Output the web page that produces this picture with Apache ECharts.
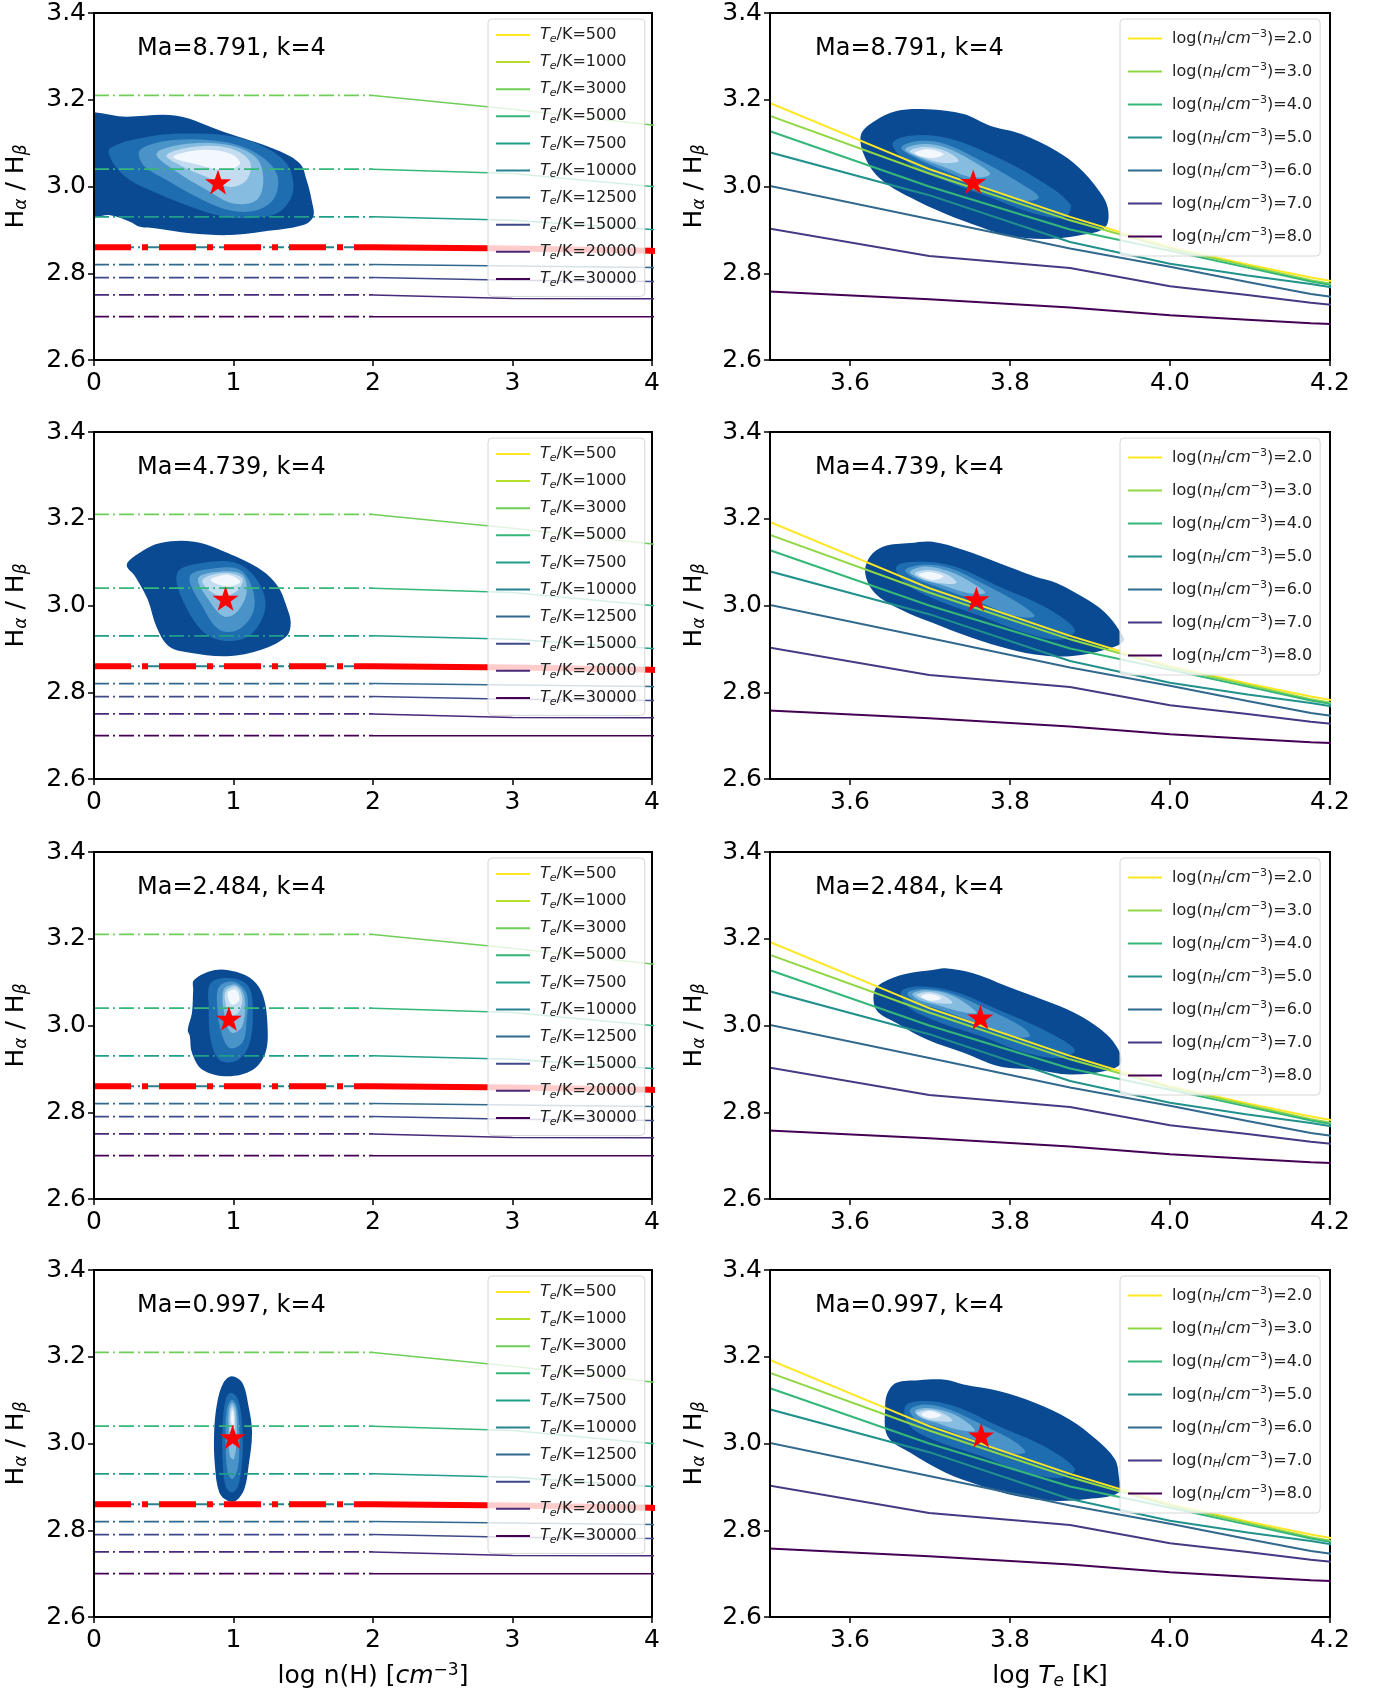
<!DOCTYPE html>
<html>
<head>
<meta charset="utf-8">
<title>Halpha / Hbeta diagnostics</title>
<script src="https://cdn.jsdelivr.net/npm/echarts@6/dist/echarts.min.js"></script>
<style>
html, body { margin: 0; padding: 0; background: #fff; }
#chart { width: 1376px; height: 1694px; }
</style>
</head>
<body>
<div id="chart"></div>
<script>
// model grid: electron temperatures (K) and densities log(nH/cm^-3)
const teValues = [500, 1000, 3000, 5000, 7500, 10000, 12500, 15000, 20000, 30000]
const logNH = [2, 3, 4, 5, 6, 7, 8]

// Ha/Hb for each Te, one value per logNH
const ratio500 = [3.62, 3.60, 3.57, 3.51, 3.40, 3.22, 2.93]
const ratio1000 = [3.47, 3.45, 3.42, 3.36, 3.25, 3.09, 2.84]
const ratio3000 = [3.21, 3.178, 3.142, 3.09, 3.01, 2.91, 2.76]
const ratio5000 = [3.04, 3.03, 3.00, 2.98, 2.925, 2.84, 2.74]
const ratio7500 = [2.93, 2.922, 2.901, 2.872, 2.857, 2.812, 2.721]
const ratio10000 = [2.86, 2.857, 2.852, 2.822, 2.815, 2.77, 2.703]
const ratio12500 = [2.82, 2.817, 2.813, 2.795, 2.78, 2.75, 2.693]
const ratio15000 = [2.79, 2.784, 2.781, 2.775, 2.752, 2.732, 2.685]
const ratio20000 = [2.75, 2.742, 2.741, 2.74, 2.72, 2.71, 2.675]
const ratio30000 = [2.70, 2.70, 2.70, 2.70, 2.69, 2.68, 2.66]
const ratioByTe = [ratio500, ratio1000, ratio3000, ratio5000, ratio7500,
  ratio10000, ratio12500, ratio15000, ratio20000, ratio30000]

const highlightTe = 10000 // drawn again in thick red
const extendFrom = 0 // flat extension below the lowest density

const panelLabels = ['Ma=8.791, k=4', 'Ma=4.739, k=4', 'Ma=2.484, k=4', 'Ma=0.997, k=4']
const starNH = [[0.889, 3.010], [0.943, 3.016], [0.967, 3.016], [0.994, 3.015]]
const starTe = [[3.754, 3.011], [3.758, 3.015], [3.763, 3.019], [3.764, 3.019]]

const rightXTicks = [3.6, 3.8, 4.0, 4.2]

// density contours (outer level first)
const blobNH1 = [
  [[-0.1,3.16],[0.235,3.161],[0.593,3.163],[0.927,3.126],[1.309,3.084],[1.476,3.053],[1.524,3.015],[1.56,2.969],[1.572,2.931],[1.5,2.911],[1.214,2.896],[0.975,2.888],[0.688,2.892],[0.449,2.903],[0.33,2.907],[0.258,2.919],[0.115,2.934],[-0.1,2.932]],
  [[0.115,3.088],[0.449,3.118],[0.736,3.122],[0.999,3.115],[1.214,3.092],[1.381,3.053],[1.429,3.007],[1.405,2.969],[1.309,2.938],[1.118,2.927],[0.927,2.931],[0.688,2.954],[0.449,2.985],[0.258,3.015],[0.139,3.053]],
  [[0.33,3.084],[0.568,3.107],[0.927,3.103],[1.166,3.076],[1.309,3.03],[1.297,2.976],[1.166,2.945],[0.975,2.945],[0.76,2.972],[0.521,3.015],[0.354,3.049]],
  [[0.449,3.076],[0.688,3.099],[0.975,3.095],[1.166,3.065],[1.214,3.015],[1.166,2.969],[0.999,2.961],[0.808,2.992],[0.593,3.034]],
  [[0.521,3.072],[0.736,3.092],[0.975,3.088],[1.118,3.057],[1.094,3.015],[0.975,2.999],[0.808,3.022],[0.64,3.045]],
  [[0.568,3.068],[0.76,3.084],[0.975,3.076],[1.047,3.053],[0.951,3.038],[0.76,3.049]]
]
const blobNH2 = [
  [[0.235,3.094],[0.325,3.121],[0.476,3.144],[0.717,3.147],[0.958,3.121],[1.199,3.082],[1.319,3.044],[1.38,2.998],[1.41,2.96],[1.38,2.929],[1.199,2.898],[0.958,2.883],[0.687,2.891],[0.536,2.906],[0.446,2.952],[0.386,3.013],[0.295,3.067]],
  [[0.596,3.075],[0.777,3.098],[1.018,3.098],[1.169,3.059],[1.229,2.998],[1.139,2.937],[0.988,2.918],[0.807,2.933],[0.657,2.998]],
  [[0.687,3.067],[0.867,3.086],[1.048,3.082],[1.139,3.036],[1.139,2.983],[1.033,2.944],[0.898,2.944],[0.777,2.998]],
  [[0.747,3.063],[0.898,3.078],[1.063,3.071],[1.093,3.029],[1.018,2.983],[0.928,2.975],[0.822,3.013]],
  [[0.777,3.059],[0.928,3.075],[1.063,3.063],[1.033,3.036],[0.928,3.021],[0.837,3.032]],
  [[0.837,3.059],[0.958,3.071],[1.048,3.055],[0.958,3.044]]
]
const blobNH3 = [
  [[0.717,3.105],[0.867,3.128],[1.018,3.124],[1.139,3.105],[1.214,3.067],[1.244,2.998],[1.229,2.937],[1.139,2.898],[0.958,2.883],[0.777,2.898],[0.702,2.937],[0.687,2.975],[0.672,2.99],[0.702,3.029],[0.711,3.082]],
  [[0.837,3.098],[0.988,3.109],[1.108,3.09],[1.139,3.029],[1.108,2.952],[1.018,2.918],[0.898,2.921],[0.837,2.967],[0.822,3.044]],
  [[0.898,3.09],[1.003,3.101],[1.093,3.075],[1.093,3.006],[1.063,2.96],[0.973,2.948],[0.913,2.983],[0.883,3.044]],
  [[0.928,3.082],[1.018,3.094],[1.078,3.067],[1.063,2.998],[0.988,2.983],[0.943,3.013]],
  [[0.943,3.078],[1.018,3.09],[1.063,3.063],[1.033,3.029],[0.973,3.025],[0.943,3.052]],
  [[0.958,3.075],[1.018,3.082],[1.042,3.059],[0.988,3.048]]
]
const blobNH4 = [
  [[0.988,3.155],[1.063,3.14],[1.108,3.086],[1.133,3.025],[1.108,2.948],[1.078,2.895],[1.018,2.868],[0.958,2.868],[0.898,2.887],[0.867,2.948],[0.861,3.025],[0.883,3.094],[0.928,3.14]],
  [[0.982,3.117],[1.033,3.101],[1.063,3.04],[1.063,2.964],[1.033,2.902],[0.988,2.887],[0.943,2.902],[0.922,2.964],[0.922,3.04],[0.943,3.101]],
  [[0.988,3.101],[1.024,3.086],[1.042,3.025],[1.033,2.948],[0.994,2.918],[0.958,2.933],[0.943,3.01],[0.952,3.078]],
  [[0.991,3.094],[1.018,3.078],[1.024,3.017],[1.003,2.964],[0.973,2.971],[0.964,3.033],[0.967,3.078]],
  [[0.991,3.086],[1.009,3.071],[1.009,3.025],[0.988,3.002],[0.973,3.025],[0.976,3.071]],
  [[0.991,3.078],[1.003,3.063],[0.997,3.04],[0.982,3.055]]
]
const blobTe1 = [
  [[3.614,3.121],[3.631,3.151],[3.658,3.174],[3.697,3.178],[3.742,3.167],[3.775,3.14],[3.814,3.121],[3.858,3.082],[3.886,3.044],[3.908,2.998],[3.922,2.952],[3.919,2.906],[3.886,2.887],[3.842,2.879],[3.797,2.887],[3.764,2.906],[3.719,2.937],[3.675,2.975],[3.636,3.021],[3.617,3.075]],
  [[3.653,3.098],[3.675,3.117],[3.719,3.113],[3.775,3.075],[3.831,3.021],[3.875,2.96],[3.869,2.929],[3.831,2.937],[3.775,2.975],[3.719,3.013],[3.675,3.052]],
  [[3.664,3.09],[3.686,3.105],[3.719,3.098],[3.764,3.059],[3.808,3.013],[3.836,2.975],[3.814,2.967],[3.769,2.998],[3.719,3.036],[3.681,3.067]],
  [[3.669,3.086],[3.692,3.098],[3.719,3.09],[3.753,3.059],[3.775,3.029],[3.753,3.021],[3.719,3.044],[3.686,3.067]],
  [[3.675,3.082],[3.694,3.091],[3.719,3.082],[3.736,3.059],[3.714,3.055],[3.689,3.068]],
  [[3.681,3.078],[3.697,3.086],[3.717,3.075],[3.706,3.066],[3.689,3.069]]
]
const blobTe2 = [
  [[3.625,3.113],[3.642,3.136],[3.675,3.144],[3.703,3.147],[3.742,3.128],[3.786,3.098],[3.831,3.067],[3.858,3.052],[3.897,3.013],[3.919,2.983],[3.936,2.944],[3.942,2.918],[3.919,2.898],[3.875,2.883],[3.831,2.887],[3.786,2.906],[3.747,2.929],[3.703,2.96],[3.664,2.99],[3.631,3.029],[3.619,3.075]],
  [[3.658,3.09],[3.686,3.101],[3.731,3.09],[3.786,3.044],[3.842,2.998],[3.881,2.944],[3.864,2.921],[3.819,2.937],[3.764,2.975],[3.708,3.013],[3.669,3.052]],
  [[3.669,3.082],[3.692,3.094],[3.725,3.086],[3.769,3.048],[3.814,3.002],[3.831,2.975],[3.808,2.975],[3.764,3.006],[3.714,3.04],[3.681,3.063]],
  [[3.675,3.078],[3.694,3.09],[3.725,3.078],[3.753,3.052],[3.769,3.029],[3.747,3.029],[3.714,3.048],[3.686,3.063]],
  [[3.681,3.075],[3.7,3.082],[3.722,3.071],[3.733,3.052],[3.711,3.052],[3.689,3.063]],
  [[3.686,3.071],[3.7,3.077],[3.717,3.067],[3.703,3.059]]
]
const blobTe3 = [
  [[3.631,3.082],[3.647,3.105],[3.675,3.121],[3.703,3.128],[3.719,3.132],[3.753,3.121],[3.797,3.09],[3.842,3.059],[3.881,3.029],[3.914,2.99],[3.933,2.952],[3.939,2.914],[3.919,2.895],[3.875,2.887],[3.831,2.898],[3.786,2.906],[3.742,2.937],[3.697,2.967],[3.658,3.006],[3.633,3.036]],
  [[3.664,3.078],[3.686,3.09],[3.731,3.078],[3.786,3.036],[3.842,2.99],[3.881,2.944],[3.864,2.925],[3.819,2.937],[3.764,2.975],[3.708,3.01],[3.672,3.044]],
  [[3.672,3.075],[3.692,3.084],[3.725,3.075],[3.769,3.04],[3.814,2.998],[3.825,2.975],[3.803,2.975],[3.758,3.006],[3.714,3.036],[3.683,3.055]],
  [[3.678,3.073],[3.697,3.081],[3.725,3.071],[3.747,3.048],[3.758,3.029],[3.736,3.033],[3.708,3.048],[3.686,3.059]],
  [[3.683,3.071],[3.7,3.077],[3.719,3.067],[3.728,3.052],[3.708,3.052],[3.691,3.061]],
  [[3.689,3.067],[3.7,3.073],[3.714,3.063],[3.701,3.057]]
]
const blobTe4 = [
  [[3.644,3.086],[3.647,3.117],[3.658,3.14],[3.686,3.146],[3.719,3.147],[3.742,3.136],[3.786,3.121],[3.831,3.094],[3.875,3.055],[3.908,3.009],[3.931,2.964],[3.936,2.925],[3.936,2.887],[3.897,2.872],[3.853,2.868],[3.808,2.879],[3.764,2.902],[3.719,2.933],[3.675,2.979],[3.647,3.017]],
  [[3.669,3.086],[3.692,3.098],[3.731,3.086],[3.786,3.04],[3.842,2.994],[3.881,2.941],[3.864,2.921],[3.819,2.933],[3.764,2.971],[3.708,3.006],[3.675,3.04]],
  [[3.675,3.078],[3.694,3.09],[3.725,3.078],[3.769,3.04],[3.808,3.002],[3.819,2.979],[3.797,2.979],[3.758,3.006],[3.714,3.036],[3.683,3.055]],
  [[3.681,3.075],[3.697,3.082],[3.725,3.071],[3.747,3.048],[3.756,3.029],[3.733,3.033],[3.708,3.048],[3.689,3.059]],
  [[3.683,3.071],[3.7,3.078],[3.719,3.067],[3.728,3.052],[3.708,3.052],[3.692,3.059]],
  [[3.689,3.067],[3.7,3.075],[3.714,3.065],[3.701,3.058]]
]
const blobsNH = [blobNH1, blobNH2, blobNH3, blobNH4]
const blobsTe = [blobTe1, blobTe2, blobTe3, blobTe4]

const teColors = ['#fde725', '#b5de2b', '#6ece58', '#35b779', '#1f9e89', '#26828e', '#31688e', '#3e4989', '#482878', '#440154']
const nhColors = ['#fde725', '#8fd744', '#35b779', '#21918c', '#31688e', '#443983', '#440154']
const blobColors = ['#0a4a93', '#1f6db1', '#4a93c8', '#86bcdf', '#c3dcef', '#f2f8fd']

const FONT = 'DejaVu Sans'
const gridTops = [13, 432, 852, 1270]
const gridHeight = 347
const starPath = 'path://M50,0 L61.8,35.1 L98.1,35.1 L68.8,56.8 L79.4,91 L50,70 L20.6,91 L31.2,56.8 L1.9,35.1 L38.2,35.1 Z'

const teName = (te) => 'Te/K=' + te
const nhName = (nh) => 'log(nH/cm-3)=' + nh.toFixed(1)

const subRich = {
  i: { fontStyle: 'italic', fontFamily: FONT },
  sub: { fontStyle: 'italic', fontSize: 11, fontFamily: FONT, padding: [8, 0, 0, 0] },
  sup: { fontSize: 11, fontFamily: FONT, padding: [0, 0, 8, 0] },
}
const axisRich = {
  i: { fontStyle: 'italic', fontSize: 25, fontFamily: FONT },
  sub: { fontStyle: 'italic', fontSize: 17, fontFamily: FONT, padding: [11, 0, 0, 0] },
  sup: { fontSize: 17, fontFamily: FONT, padding: [0, 0, 11, 0] },
}

function blobSeries(polys, idx) {
  return {
    type: 'custom',
    xAxisIndex: idx,
    yAxisIndex: idx,
    z: 1,
    silent: true,
    data: polys.map((p, i) => i),
    renderItem: (params, api) => {
      const pts = polys[params.dataIndex].map((p) => api.coord(p))
      const cs = params.coordSys
      return {
        type: 'polygon',
        shape: { points: pts, smooth: 0.35 },
        style: { fill: blobColors[params.dataIndex] },
        clipPath: { type: 'rect', shape: { x: cs.x, y: cs.y, width: cs.width, height: cs.height } },
      }
    },
  }
}

function lineSeries(name, idx, data, color, width, type, z) {
  return {
    type: 'line', name, xAxisIndex: idx, yAxisIndex: idx, data,
    symbol: 'none', silent: true, z,
    lineStyle: { color, width, type, cap: 'butt' },
    itemStyle: { color },
  }
}

function starSeries(point, idx) {
  return {
    type: 'scatter', xAxisIndex: idx, yAxisIndex: idx, data: [point], z: 6, silent: true,
    symbol: starPath, symbolSize: 26, symbolKeepAspect: true,
    itemStyle: { color: '#ff0000', opacity: 1 },
  }
}

const grids = []
const xAxes = []
const yAxes = []
const series = []
const legends = []
const titles = []

const tickStyle = { show: true, length: 6, lineStyle: { color: '#000', width: 1.5 } }
const labelStyle = { fontSize: 25, color: '#000', fontFamily: FONT, margin: 8 }
const xLabelStyle = Object.assign({}, labelStyle, { margin: 11 })

for (let r = 0; r < 4; r++) {
  const top = gridTops[r]
  const last = r === 3
  const li = 2 * r
  const ri = 2 * r + 1
  const frame = { top, height: gridHeight, show: true, borderColor: '#000', borderWidth: 2, backgroundColor: 'transparent' }
  grids.push(Object.assign({ left: 94, width: 558 }, frame))
  grids.push(Object.assign({ left: 770, width: 560 }, frame))

  xAxes.push({
    gridIndex: li, type: 'value', min: 0, max: 4, interval: 1, z: 10,
    axisLine: { show: true, lineStyle: { color: '#000', width: 2 } },
    axisTick: tickStyle, splitLine: { show: false },
    axisLabel: xLabelStyle,
    name: last ? 'log n(H) [{i|cm}{sup|\u22123}]' : '',
    nameLocation: 'middle', nameGap: 45,
    nameTextStyle: { fontSize: 25, color: '#000', fontFamily: FONT, rich: axisRich },
  })
  xAxes.push({
    gridIndex: ri, type: 'value', min: 3.5, max: 4.2, z: 10,
    axisLine: { show: true, lineStyle: { color: '#000', width: 2 } },
    axisTick: Object.assign({ customValues: rightXTicks }, tickStyle), splitLine: { show: false },
    axisLabel: Object.assign({ customValues: rightXTicks, formatter: (v) => v.toFixed(1) }, xLabelStyle),
    name: last ? 'log {i|T}{sub|e} [K]' : '',
    nameLocation: 'middle', nameGap: 45,
    nameTextStyle: { fontSize: 25, color: '#000', fontFamily: FONT, rich: axisRich },
  })
  for (const [idx, gap] of [[li, 64], [ri, 62]]) {
    yAxes.push({
      gridIndex: idx, type: 'value', min: 2.6, max: 3.4, interval: 0.2, z: 10,
      axisLine: { show: true, lineStyle: { color: '#000', width: 2 } },
      axisTick: tickStyle, splitLine: { show: false },
      axisLabel: Object.assign({ formatter: (v) => v.toFixed(1) }, labelStyle),
      name: 'H{sub|\u03b1} / H{sub|\u03b2}',
      nameLocation: 'middle', nameGap: gap, nameRotate: 90,
      nameTextStyle: { fontSize: 25, color: '#000', fontFamily: FONT, rich: axisRich },
    })
  }

  // left: ratio vs density, one line per temperature
  series.push(blobSeries(blobsNH[r], li))
  teValues.forEach((te, i) => {
    const row = ratioByTe[i]
    series.push(lineSeries(te + ' ext', li, [[extendFrom, row[0]], [logNH[0], row[0]]], teColors[i], 1.8, [15, 4, 2, 4], 3))
    series.push(lineSeries(teName(te), li, logNH.map((nh, j) => [nh, row[j]]), teColors[i], 1.5, 'solid', 3))
  })
  const hl = ratioByTe[teValues.indexOf(highlightTe)]
  series.push(lineSeries('hl ext', li, [[extendFrom, hl[0]], [logNH[0], hl[0]]], '#ff0000', 6, [37, 11, 6, 11], 4))
  series.push(lineSeries('hl', li, logNH.map((nh, j) => [nh, hl[j]]), '#ff0000', 6, 'solid', 4))
  series.push(starSeries(starNH[r], li))

  // right: ratio vs temperature, one line per density
  series.push(blobSeries(blobsTe[r], ri))
  logNH.forEach((nh, j) => {
    series.push(lineSeries(nhName(nh), ri, teValues.map((te, i) => [Math.log10(te), ratioByTe[i][j]]), nhColors[j], 2, 'solid', 3))
  })
  series.push(starSeries(starTe[r], ri))

  const legendBase = {
    orient: 'vertical', selectedMode: false, itemWidth: 34, itemHeight: 14, z: 20,
    backgroundColor: 'rgba(255,255,255,0.8)', borderColor: '#d6d6d6', borderWidth: 1, borderRadius: 4,
    itemStyle: { opacity: 0 },
    textStyle: { fontSize: 16, color: '#222', fontFamily: FONT, rich: subRich, padding: [0, 0, 0, 5] },
  }
  legends.push(Object.assign({}, legendBase, {
    left: 488, top: top + 6, padding: [8, 8, 8, 7], itemGap: 9.6,
    data: teValues.map(teName),
    formatter: (n) => n.replace('Te', '{i|T}{sub|e}'),
  }))
  legends.push(Object.assign({}, legendBase, {
    left: 1120, top: top + 6, padding: [10, 8, 10, 7], itemGap: 14,
    data: logNH.map(nhName),
    formatter: (n) => n.replace('nH', '{i|n}{sub|H}').replace('cm-3', '{i|cm}{sup|\u22123}'),
  }))

  for (const left of [137, 815]) {
    titles.push({
      text: panelLabels[r], left, top: top + 24, padding: 0,
      textStyle: { fontSize: 24, fontWeight: 'normal', color: '#000', fontFamily: FONT },
    })
  }
}

const chart = echarts.init(document.getElementById('chart'), null, { renderer: 'canvas' })
chart.setOption({
  backgroundColor: '#fff',
  animation: false,
  title: titles,
  legend: legends,
  grid: grids,
  xAxis: xAxes,
  yAxis: yAxes,
  series,
})
</script>
</body>
</html>
